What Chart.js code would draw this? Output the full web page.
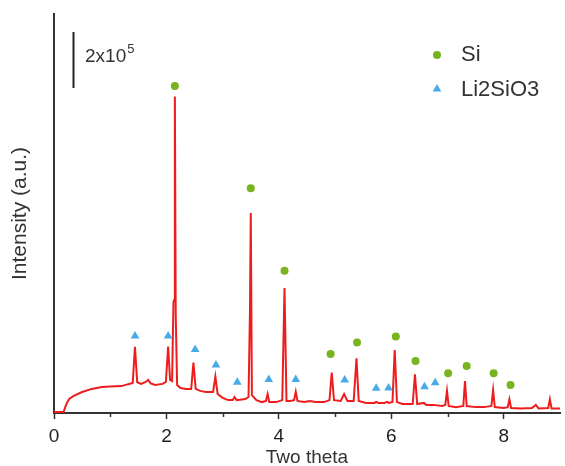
<!DOCTYPE html>
<html>
<head>
<meta charset="utf-8">
<script src="https://cdn.jsdelivr.net/npm/chart.js@4.4.1/dist/chart.umd.min.js"></script>
<style>
  html, body { margin: 0; padding: 0; background: #ffffff; }
  #wrap { width: 565px; height: 466px; position: relative; }
</style>
</head>
<body>
<div id="wrap"><canvas id="xrd"></canvas></div>
<script>
// Diffraction pattern: angle and measured intensity (counts)
const twoTheta = [
  0.00, 0.17, 0.20, 0.23, 0.27, 0.35, 0.50, 0.67, 0.85, 1.00,
  1.20, 1.32, 1.40, 1.44, 1.48, 1.55, 1.63, 1.675, 1.72, 1.80,
  1.93, 1.99, 2.03, 2.065, 2.10, 2.125, 2.138, 2.15, 2.165, 2.19,
  2.25, 2.35, 2.44, 2.48, 2.52, 2.60, 2.70, 2.83, 2.87, 2.91,
  3.00, 3.10, 3.18, 3.21, 3.25, 3.40, 3.46, 3.485, 3.50, 3.52,
  3.60, 3.70, 3.77, 3.80, 3.83, 3.95, 4.06, 4.10, 4.135, 4.20,
  4.27, 4.30, 4.33, 4.45, 4.55, 4.65, 4.80, 4.90, 4.94, 4.98,
  5.10, 5.16, 5.22, 5.33, 5.38, 5.42, 5.55, 5.70, 5.73, 5.77,
  5.88, 5.92, 5.96, 6.02, 6.06, 6.10, 6.20, 6.38, 6.42, 6.46,
  6.58, 6.62, 6.75, 6.90, 6.96, 6.99, 7.02, 7.15, 7.28, 7.31,
  7.34, 7.50, 7.65, 7.78, 7.81, 7.84, 8.00, 8.07, 8.10, 8.13,
  8.30, 8.50, 8.57, 8.62, 8.79, 8.82, 8.85, 9.00
];
const intensity = [
  3600, 3600, 21000, 36000, 50000, 61000, 75000, 86000, 93000, 95000,
  96000, 103000, 107000, 236000, 110000, 104000, 111000, 118000, 106000, 100000,
  104000, 111000, 237000, 118000, 114000, 396000, 404000, 1130000, 350000, 100000,
  89000, 86000, 86000, 180000, 86000, 79000, 75000, 75000, 130000, 68000,
  54000, 46000, 46000, 57000, 46000, 50000, 57000, 357000, 714000, 64000,
  46000, 39000, 43000, 68000, 39000, 39000, 46000, 446000, 43000, 43000,
  46000, 76000, 43000, 39000, 43000, 39000, 39000, 46000, 144000, 46000,
  43000, 68000, 43000, 43000, 195000, 43000, 36000, 36000, 40000, 36000,
  36000, 40000, 36000, 39000, 225000, 39000, 32000, 32000, 138000, 32000,
  36000, 29000, 29000, 25000, 29000, 79000, 25000, 21000, 25000, 114000,
  25000, 21000, 21000, 25000, 82000, 21000, 18000, 21000, 49000, 18000,
  16000, 18000, 29000, 16000, 18000, 49000, 16000, 16000
];

// Phase markers placed above the reflections
const siTheta = [2.15, 3.50, 4.10, 4.92, 5.39, 6.08, 6.43, 7.01, 7.34, 7.82, 8.12];
const siMark  = [1168000, 803000, 508000, 211000, 252000, 273000, 186000, 142000, 168000, 142000, 100000];
const liTheta = [1.44, 2.03, 2.51, 2.88, 3.26, 3.82, 4.30, 5.17, 5.73, 5.95, 6.59, 6.78];
const liMark  = [275000, 275000, 227000, 171000, 110000, 120000, 120000, 118000, 88000, 89000, 94000, 108000];

const phaseNames = ['Si', 'Li2SiO3'];
const xTicks = [0, 2, 4, 6, 8];
const xMinorTicks = [1, 3, 5, 7];
const scaleBarValue = 200000;

const FONT = 'Liberation Sans, Arial, Helvetica, sans-serif';
const TEXT = '#333333';
const AXIS = '#333333';
const RED = '#ee1d1d';
const GREEN = '#79b41e';
const BLUE = '#46abe8';

const pts = (xs, ys) => xs.map((x, i) => ({ x, y: ys[i] }));

// Minor ticks on the angle axis
const minorTicks = {
  id: 'minorTicks',
  afterDraw(chart) {
    const { ctx } = chart;
    const xs = chart.scales.x;
    ctx.save();
    ctx.strokeStyle = AXIS;
    ctx.lineWidth = 1.5;
    xMinorTicks.forEach(v => {
      const px = Math.round(xs.getPixelForValue(v)) + 0.5;
      ctx.beginPath();
      ctx.moveTo(px, xs.top);
      ctx.lineTo(px, xs.top + 4);
      ctx.stroke();
    });
    ctx.restore();
  }
};

// Intensity scale bar with its label
const scaleBar = {
  id: 'scaleBar',
  afterDraw(chart) {
    const { ctx } = chart;
    const ys = chart.scales.y;
    const len = ys.getPixelForValue(0) - ys.getPixelForValue(scaleBarValue);
    const x = 73.5, top = 32;
    ctx.save();
    ctx.strokeStyle = '#222';
    ctx.lineWidth = 2;
    ctx.beginPath();
    ctx.moveTo(x, top);
    ctx.lineTo(x, top + len);
    ctx.stroke();
    ctx.fillStyle = TEXT;
    ctx.textBaseline = 'middle';
    ctx.textAlign = 'left';
    ctx.font = '19px ' + FONT;
    const base = '2x10';
    ctx.fillText(base, 85, 57);
    const w = ctx.measureText(base).width;
    ctx.font = '13px ' + FONT;
    ctx.fillText('5', 85 + w + 1, 49);
    ctx.restore();
  }
};

// Phase key in the upper right corner
const phaseKey = {
  id: 'phaseKey',
  afterDraw(chart) {
    const { ctx } = chart;
    const rows = [
      { name: phaseNames[0], color: GREEN, style: 'circle', r: 4, y: 55 },
      { name: phaseNames[1], color: BLUE, style: 'triangle', r: 5, y: 90 }
    ];
    ctx.save();
    rows.forEach(row => {
      ctx.fillStyle = row.color;
      ctx.strokeStyle = row.color;
      Chart.helpers.drawPoint(ctx, { pointStyle: row.style, radius: row.r, borderWidth: 0 }, 437, row.y + (row.style === 'triangle' ? -1 : 0));
      ctx.fillStyle = TEXT;
      ctx.font = '22px ' + FONT;
      ctx.textBaseline = 'middle';
      ctx.textAlign = 'left';
      ctx.fillText(row.name, 461, row.y);
    });
    ctx.restore();
  }
};

new Chart(document.getElementById('xrd'), {
  type: 'line',
  data: {
    datasets: [
      {
        label: 'pattern',
        data: pts(twoTheta, intensity),
        borderColor: RED,
        borderWidth: 2,
        pointRadius: 0,
        tension: 0,
        fill: false,
        order: 2
      },
      {
        type: 'scatter',
        label: phaseNames[0],
        data: pts(siTheta, siMark),
        pointStyle: 'circle',
        pointRadius: 4,
        backgroundColor: GREEN,
        borderWidth: 0,
        order: 1
      },
      {
        type: 'scatter',
        label: phaseNames[1],
        data: pts(liTheta, liMark),
        pointStyle: 'triangle',
        pointRadius: 5,
        backgroundColor: BLUE,
        borderWidth: 0,
        order: 1
      }
    ]
  },
  options: {
    responsive: true,
    maintainAspectRatio: false,
    animation: false,
    layout: { padding: { top: 14, right: 0, left: 0, bottom: 0 } },
    plugins: {
      legend: { display: false },
      tooltip: { enabled: false }
    },
    scales: {
      x: {
        type: 'linear',
        min: 0,
        max: 9,
        afterFit(scale) { scale.height = 53; },
        afterBuildTicks(scale) { scale.ticks = xTicks.map(v => ({ value: v })); },
        ticks: {
          color: '#222',
          font: { family: FONT, size: 19 },
          padding: 6,
          autoSkip: false,
          maxRotation: 0
        },
        grid: {
          display: true,
          drawOnChartArea: false,
          drawTicks: true,
          tickLength: 6,
          tickWidth: 1.5,
          tickColor: AXIS
        },
        border: { display: true, color: AXIS, width: 2 },
        title: {
          display: true,
          text: 'Two theta',
          color: TEXT,
          font: { family: FONT, size: 19 },
          padding: { top: 0, bottom: -3 }
        }
      },
      y: {
        type: 'linear',
        min: 0,
        max: 1425000,
        afterFit(scale) { scale.width = 54; },
        ticks: { display: false },
        grid: { display: false },
        border: { display: true, color: AXIS, width: 2 },
        title: {
          display: true,
          text: 'Intensity (a.u.)',
          color: TEXT,
          font: { family: FONT, size: 21 },
          padding: { top: 8, bottom: 0 }
        }
      }
    }
  },
  plugins: [minorTicks, scaleBar, phaseKey]
});
</script>
</body>
</html>
